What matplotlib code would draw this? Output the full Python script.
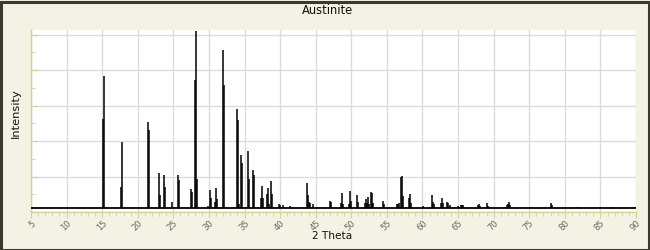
import matplotlib
matplotlib.use("Agg")
import matplotlib.pyplot as plt
from matplotlib.patches import Rectangle
from matplotlib.ticker import MultipleLocator

# ---- data (2-theta position, intensity) ----
peak_pos = [15.18, 15.32, 17.71, 17.85, 21.37, 21.51, 22.93, 23.07, 23.64, 23.78,
            24.74, 25.59, 25.73, 27.42, 27.56, 27.98, 28.12, 28.26, 29.81,
            30.09, 30.23, 30.80, 30.94, 31.08, 31.92, 32.06, 33.89, 34.03, 34.17,
            34.46, 34.60, 35.44, 35.58, 36.15, 36.29, 37.28, 37.42, 37.56,
            38.13, 38.27, 38.41, 38.68, 38.82, 39.81, 39.95, 40.37, 41.35,
            43.74, 43.88, 44.02, 44.16, 44.56, 46.98, 47.12, 48.53, 48.67, 48.81,
            49.65, 49.79, 49.93, 50.78, 50.92, 51.90, 52.04, 52.18, 52.33, 52.47,
            52.75, 52.89, 53.03, 54.44, 54.58, 56.41, 56.55, 56.69,
            56.97, 57.11, 57.25, 58.10, 58.24, 58.38, 60.07,
            61.34, 61.48, 61.62, 62.60, 62.75, 62.89, 63.44, 63.58, 63.86, 64.62,
            64.99, 65.41, 65.55, 65.69, 67.81, 67.95, 68.09, 69.07, 69.21,
            71.61, 71.89, 72.03, 72.17, 72.31, 75.27, 78.08, 78.22, 81.88,
            84.98, 86.53, 89.90]
peak_int = [261, 383, 70, 197, 254, 230, 109, 48, 103, 70,
            28, 104, 90, 64, 56, 372, 510, 92, 17,
            62, 39, 28, 67, 36, 458, 357, 289, 258, 22,
            160, 137, 172, 92, 118, 103, 39, 73, 40,
            50, 67, 22, 87, 50, 22, 20, 20, 18,
            81, 48, 29, 25, 22, 30, 28, 25, 53, 22,
            23, 58, 30, 49, 28, 25, 36, 25, 41, 22,
            56, 53, 25, 30, 22, 22, 22, 26,
            99, 101, 45, 40, 50, 24, 17,
            47, 28, 23, 26, 39, 24, 28, 25, 20, 15,
            18, 20, 20, 19, 20, 22, 18, 25, 17,
            15, 20, 22, 27, 20, 15, 25, 20, 14,
            15, 14, 15]
background = 12
x_range = [5, 90]
title = "Austinite"
xlabel = "2 Theta"
ylabel = "Intensity"

bg = "#F4F2E5"
yel = "#D8D194"

fig = plt.figure(figsize=(6.5, 2.5), dpi=100, facecolor=bg)
ax = fig.add_axes([31/650, 38/250, 605/650, 182/250])
ax.set_facecolor("white")

ax.hlines(background, x_range[0], x_range[1], color="black", lw=1.3, zorder=3)
ax.vlines(peak_pos, background, peak_int, color="black", lw=1.1, zorder=3)

ax.set_xlim(x_range)
ax.set_ylim(0, 513)

ax.xaxis.set_major_locator(MultipleLocator(5))
ax.xaxis.set_minor_locator(MultipleLocator(1))
ax.yaxis.set_major_locator(MultipleLocator(100))
ax.yaxis.set_minor_locator(MultipleLocator(50))
ax.grid(True, which="major", color="#DCDCDC", lw=1.0, zorder=0)

for s in ["top", "right"]:
    ax.spines[s].set_visible(False)
for s in ["left", "bottom"]:
    ax.spines[s].set_color(yel)
    ax.spines[s].set_linewidth(1.0)

ax.tick_params(axis="x", which="major", direction="out", length=4, color=yel,
               labelsize=6, labelcolor="#666666", pad=1)
ax.tick_params(axis="x", which="minor", direction="out", length=3, color=yel)
ax.tick_params(axis="y", which="major", direction="in", length=5, color=yel,
               labelleft=False)
ax.tick_params(axis="y", which="minor", direction="in", length=3, color=yel)
for lab in ax.get_xticklabels():
    lab.set_rotation(45)
    lab.set_ha("right")
    lab.set_va("top")
    lab.set_rotation_mode("anchor")

fig.text(328/650, 1 - 10/250, title, ha="center", va="center", fontsize=8.3, color="#111111")
fig.text(332/650, 1 - 236/250, xlabel, ha="center", va="center", fontsize=7.6, color="#111111")
fig.text(16/650, 1 - 113/250, ylabel, ha="center", va="center", rotation=90,
         fontsize=8.2, color="#111111")

fig.patches.append(Rectangle((0.5/650, 0.5/250), 1 - 2/650, 1 - 2/250,
                             transform=fig.transFigure, fill=False,
                             edgecolor="#3B392F", lw=2.2))

fig.savefig("out.png", dpi=100, facecolor=bg)
